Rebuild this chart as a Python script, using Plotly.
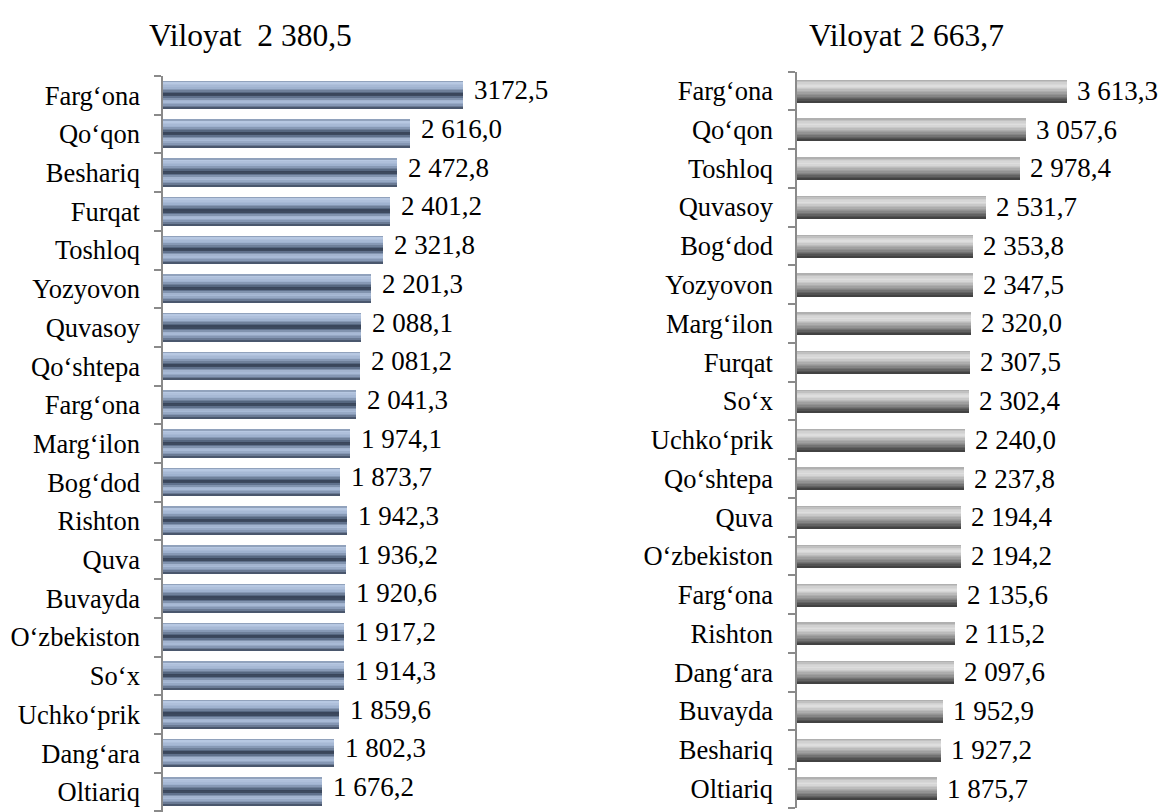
import plotly.graph_objects as go

# ---------------- data ----------------
left_title = "Viloyat\u00a0 2 380,5"
left_categories = ["Farg‘ona", "Qo‘qon", "Beshariq", "Furqat", "Toshloq", "Yozyovon",
                   "Quvasoy", "Qo‘shtepa", "Farg‘ona", "Marg‘ilon", "Bog‘dod", "Rishton",
                   "Quva", "Buvayda", "O‘zbekiston", "So‘x", "Uchko‘prik", "Dang‘ara", "Oltiariq"]
left_values = [3172.5, 2616.0, 2472.8, 2401.2, 2321.8, 2201.3, 2088.1, 2081.2, 2041.3,
               1974.1, 1873.7, 1942.3, 1936.2, 1920.6, 1917.2, 1914.3, 1859.6, 1802.3, 1676.2]
left_labels = ["3172,5", "2 616,0", "2 472,8", "2 401,2", "2 321,8", "2 201,3", "2 088,1",
               "2 081,2", "2 041,3", "1 974,1", "1 873,7", "1 942,3", "1 936,2", "1 920,6",
               "1 917,2", "1 914,3", "1 859,6", "1 802,3", "1 676,2"]

right_title = "Viloyat 2 663,7"
right_categories = ["Farg‘ona", "Qo‘qon", "Toshloq", "Quvasoy", "Bog‘dod", "Yozyovon",
                    "Marg‘ilon", "Furqat", "So‘x", "Uchko‘prik", "Qo‘shtepa", "Quva",
                    "O‘zbekiston", "Farg‘ona", "Rishton", "Dang‘ara", "Buvayda", "Beshariq", "Oltiariq"]
right_values = [3613.3, 3057.6, 2978.4, 2531.7, 2353.8, 2347.5, 2320.0, 2307.5, 2302.4,
                2240.0, 2237.8, 2194.4, 2194.2, 2135.6, 2115.2, 2097.6, 1952.9, 1927.2, 1875.7]
right_labels = ["3 613,3", "3 057,6", "2 978,4", "2 531,7", "2 353,8", "2 347,5", "2 320,0",
                "2 307,5", "2 302,4", "2 240,0", "2 237,8", "2 194,4", "2 194,2", "2 135,6",
                "2 115,2", "2 097,6", "1 952,9", "1 927,2", "1 875,7"]

# ---------------- style ----------------
W, H = 1173, 812
FONT = "Liberation Serif"

left_stops = [(0.00, "#7d8ea8"), (0.08, "#b7c8e2"), (0.25, "#9fb2cf"), (0.42, "#55657e"),
              (0.50, "#2c3648"), (0.58, "#5e6f8a"), (0.72, "#b2c4df"), (0.88, "#7f91ae"),
              (1.00, "#3a465a")]
right_stops = [(0.00, "#a8a8a8"), (0.15, "#d0d0d0"), (0.30, "#e0e0e0"), (0.50, "#b4b4b4"),
               (0.70, "#8a8a8a"), (0.85, "#606060"), (1.00, "#3a3a3a")]


def hex2rgb(h):
    h = h.lstrip("#")
    return tuple(int(h[i:i + 2], 16) for i in (0, 2, 4))


def interp(stops, t):
    for (t0, c0), (t1, c1) in zip(stops[:-1], stops[1:]):
        if t0 <= t <= t1:
            f = (t - t0) / (t1 - t0) if t1 > t0 else 0
            a, b = hex2rgb(c0), hex2rgb(c1)
            return "rgb(%d,%d,%d)" % tuple(round(a[k] + (b[k] - a[k]) * f) for k in range(3))
    return stops[-1][1]


fig = go.Figure()


def add_cylinder(values, xa, ya, width, stops, n):
    ys = list(range(len(values)))
    dw = width / n
    for i in range(n):
        t = (i + 0.5) / n
        fig.add_trace(go.Bar(
            x=values, y=ys, orientation="h",
            width=dw * 1.25 if i < n - 1 else dw,
            offset=-width / 2 + i * dw,
            marker=dict(color=interp(stops, t), line=dict(width=0)),
            xaxis=xa, yaxis=ya, hoverinfo="skip", showlegend=False))


add_cylinder(left_values, "x", "y", 0.73, left_stops, 18)
add_cylinder(right_values, "x2", "y2", 0.58, right_stops, 16)

LABEL_SIZE = 27
TICK_SIZE = 26.5
TITLE_SIZE = 31.5

annotations = []
for v, i, lab in zip(left_values, range(len(left_values)), left_labels):
    annotations.append(dict(x=v, y=i, xref="x", yref="y", text=lab, showarrow=False,
                            xanchor="left", yanchor="middle", xshift=9, yshift=5,
                            font=dict(family=FONT, size=LABEL_SIZE, color="black")))
for v, i, lab in zip(right_values, range(len(right_values)), right_labels):
    annotations.append(dict(x=v, y=i, xref="x2", yref="y2", text=lab, showarrow=False,
                            xanchor="left", yanchor="middle", xshift=8, yshift=0,
                            font=dict(family=FONT, size=LABEL_SIZE, color="black")))
annotations.append(dict(x=250 / W, y=1 - 35 / H, xref="paper", yref="paper", text=left_title,
                        showarrow=False, xanchor="center", yanchor="middle",
                        font=dict(family=FONT, size=TITLE_SIZE, color="black")))
annotations.append(dict(x=907 / W, y=1 - 35 / H, xref="paper", yref="paper", text=right_title,
                        showarrow=False, xanchor="center", yanchor="middle",
                        font=dict(family=FONT, size=TITLE_SIZE, color="black")))

axis_col = "#8a8a8a"


def yaxis_cfg(cats, domain, rng, anchor, standoff):
    n = len(cats)
    return dict(domain=domain, range=rng, anchor=anchor,
                tickmode="array", tickvals=list(range(n)), ticktext=cats,
                ticks="", showgrid=False, zeroline=False,
                showline=True, linecolor=axis_col, linewidth=1.5,
                ticklabelstandoff=standoff,
                tickfont=dict(family=FONT, size=TICK_SIZE, color="black"),
                minor=dict(tickmode="array", tickvals=[k - 0.5 for k in range(n + 1)],
                           ticks="outside", ticklen=7, tickwidth=1.5, tickcolor=axis_col,
                           showgrid=False))


left_px_per_unit = 0.0946
right_px_per_unit = 0.0748

fig.update_layout(
    width=W, height=H, margin=dict(l=0, r=0, t=0, b=0),
    paper_bgcolor="white", plot_bgcolor="white",
    barmode="overlay", bargap=0,
    xaxis=dict(domain=[163 / W, 560 / W], range=[0, (560 - 163) / left_px_per_unit],
               visible=False, anchor="y"),
    yaxis=yaxis_cfg(left_categories, [0, 1 - 76 / H],
                    [-0.5 + (812 - 76) / 38.7, -0.5], "x", 16),
    xaxis2=dict(domain=[797 / W, 1150 / W], range=[0, (1150 - 797) / right_px_per_unit],
                visible=False, anchor="y2"),
    yaxis2=yaxis_cfg(right_categories, [1 - 808 / H, 1 - 71.5 / H],
                     [18.5, -0.5], "x2", 17),
    annotations=annotations,
)

fig.write_html("out.html", config={"displayModeBar": False},
               post_script="document.body.style.margin='0';document.body.style.overflow='hidden';")
